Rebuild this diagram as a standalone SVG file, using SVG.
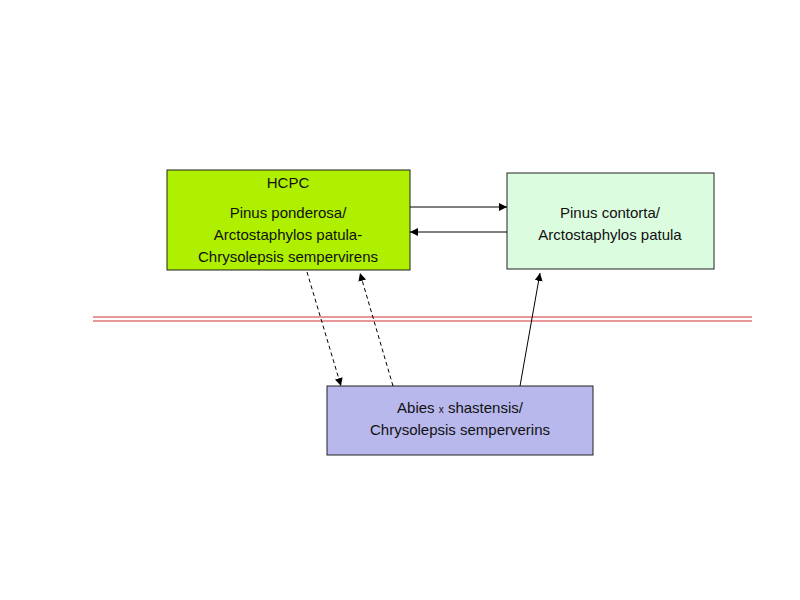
<svg xmlns="http://www.w3.org/2000/svg" width="800" height="600" viewBox="0 0 800 600">
<defs>
<marker id="ah" viewBox="0 0 10 10" refX="10" refY="5" markerWidth="8" markerHeight="8" orient="auto" markerUnits="userSpaceOnUse"><path d="M0,0 L10,5 L0,10 z" fill="#000"/></marker>
<style>
text{font-family:"Liberation Sans",Arial,sans-serif;font-size:15px;fill:#111;text-anchor:middle}
.b{stroke:#222;stroke-width:1}
.c{stroke:#000;stroke-width:1;fill:none;marker-end:url(#ah)}
.d{stroke-dasharray:4,3}
</style>
</defs>
<rect width="800" height="600" fill="#fff"/>
<line x1="93" y1="317" x2="752" y2="317" stroke="#d03030" stroke-width="1"/>
<line x1="93" y1="321" x2="752" y2="321" stroke="#d03030" stroke-width="1"/>
<g id="hcpc"><rect class="b" x="167" y="170" width="243" height="100" fill="#aef000"/>
<text x="288" y="188">HCPC</text>
<text x="288" y="218">Pinus ponderosa/</text>
<text x="288" y="240">Arctostaphylos patula-</text>
<text x="288" y="262">Chrysolepsis sempervirens</text></g>
<g id="contorta"><rect class="b" x="507" y="173" width="207" height="96" fill="#dcfce0"/>
<text x="610" y="218">Pinus contorta/</text>
<text x="610" y="240">Arctostaphylos patula</text></g>
<g id="abies"><rect class="b" x="327" y="386" width="266" height="69" fill="#b8b8ec"/>
<text x="460" y="413">Abies <tspan font-size="10">x</tspan> shastensis/</text>
<text x="460" y="435">Chrysolepsis semperverins</text></g>
<g id="connectors">
<line class="c" x1="410" y1="207" x2="507" y2="207"/>
<line class="c" x1="507" y1="232" x2="410" y2="232"/>
<line class="c d" x1="307" y1="272" x2="341" y2="386"/>
<line class="c d" x1="393" y1="386" x2="360" y2="273"/>
<line class="c" x1="520" y1="386" x2="540" y2="273"/>
</g>
</svg>
